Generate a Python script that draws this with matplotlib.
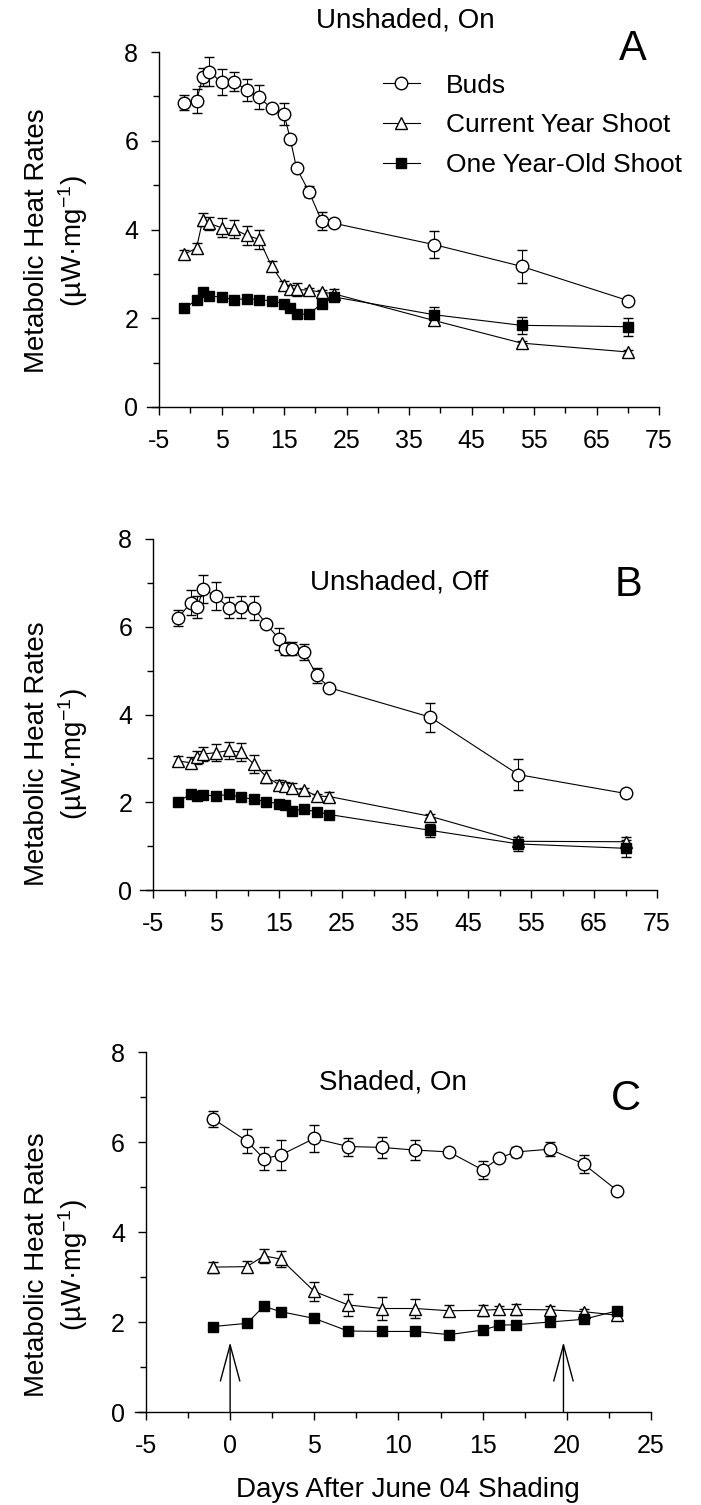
import numpy as np
import matplotlib
matplotlib.use("Agg")
import matplotlib.pyplot as plt
from matplotlib.ticker import MultipleLocator
from matplotlib.lines import Line2D

plt.rcParams['font.family'] = ['Liberation Sans', 'DejaVu Sans']
plt.rcParams['mathtext.fontset'] = 'custom'
plt.rcParams['mathtext.rm'] = 'Liberation Sans'
plt.rcParams['mathtext.default'] = 'regular'
plt.rcParams['axes.unicode_minus'] = False

# sampling days
days_long = [-1, 1, 2, 3, 5, 7, 9, 11, 13, 15, 16, 17, 19, 21, 23, 39, 53, 70]
days_short = [-1, 1, 2, 3, 5, 7, 9, 11, 13, 15, 16, 17, 19, 21, 23]

series_names = ["Buds", "Current Year Shoot", "One Year-Old Shoot"]

# panel A - unshaded, on
a_buds = [6.86, 6.90, 7.43, 7.56, 7.32, 7.33, 7.15, 6.98, 6.73, 6.61, 6.04, 5.39, 4.85, 4.20, 4.14, 3.66, 3.17, 2.40]
a_buds_err = [0.17, 0.27, 0.20, 0.33, 0.30, 0.22, 0.25, 0.27, 0.03, 0.25, 0.10, 0.05, 0.12, 0.20, 0.03, 0.30, 0.37, 0.05]
a_cur = [3.44, 3.58, 4.22, 4.14, 4.04, 4.01, 3.87, 3.78, 3.18, 2.76, 2.65, 2.65, 2.63, 2.59, 2.55, 1.95, 1.44, 1.24]
a_cur_err = [0.10, 0.12, 0.15, 0.15, 0.22, 0.20, 0.22, 0.22, 0.10, 0.08, 0.10, 0.15, 0.05, 0.05, 0.10, 0.05, 0.05, 0.05]
a_old = [2.22, 2.41, 2.60, 2.51, 2.47, 2.42, 2.44, 2.42, 2.39, 2.33, 2.23, 2.09, 2.09, 2.33, 2.48, 2.08, 1.84, 1.81]
a_old_err = [0.04, 0.04, 0.04, 0.04, 0.04, 0.04, 0.04, 0.04, 0.04, 0.04, 0.04, 0.04, 0.04, 0.04, 0.10, 0.18, 0.19, 0.20]

# panel B - unshaded, off
b_buds = [6.20, 6.55, 6.45, 6.85, 6.70, 6.43, 6.45, 6.43, 6.06, 5.72, 5.50, 5.50, 5.42, 4.89, 4.61, 3.94, 2.63, 2.20]
b_buds_err = [0.19, 0.28, 0.25, 0.32, 0.32, 0.24, 0.25, 0.27, 0.03, 0.25, 0.15, 0.15, 0.18, 0.18, 0.03, 0.33, 0.35, 0.05]
b_cur = [2.94, 2.90, 3.02, 3.10, 3.13, 3.18, 3.14, 2.87, 2.58, 2.40, 2.36, 2.33, 2.28, 2.14, 2.13, 1.68, 1.11, 1.10]
b_cur_err = [0.12, 0.12, 0.15, 0.15, 0.20, 0.20, 0.20, 0.20, 0.15, 0.10, 0.10, 0.10, 0.05, 0.05, 0.10, 0.05, 0.10, 0.10]
b_old = [2.01, 2.19, 2.15, 2.17, 2.14, 2.18, 2.11, 2.07, 2.01, 1.97, 1.93, 1.81, 1.84, 1.78, 1.72, 1.36, 1.05, 0.95]
b_old_err = [0.04, 0.04, 0.04, 0.04, 0.04, 0.04, 0.04, 0.04, 0.04, 0.04, 0.04, 0.04, 0.04, 0.04, 0.04, 0.15, 0.15, 0.20]

# panel C - shaded, on
c_buds = [6.51, 6.02, 5.63, 5.71, 6.08, 5.90, 5.88, 5.82, 5.78, 5.38, 5.65, 5.78, 5.84, 5.51, 4.92]
c_buds_err = [0.17, 0.27, 0.26, 0.34, 0.30, 0.20, 0.23, 0.23, 0.03, 0.20, 0.05, 0.12, 0.15, 0.20, 0.03]
c_cur = [3.22, 3.23, 3.47, 3.40, 2.68, 2.38, 2.30, 2.30, 2.25, 2.26, 2.28, 2.28, 2.27, 2.23, 2.15]
c_cur_err = [0.12, 0.12, 0.15, 0.18, 0.22, 0.25, 0.25, 0.22, 0.12, 0.12, 0.08, 0.12, 0.08, 0.06, 0.08]
c_old = [1.90, 1.97, 2.35, 2.23, 2.08, 1.80, 1.79, 1.79, 1.72, 1.82, 1.93, 1.94, 2.00, 2.06, 2.25]
c_old_err = [0.04] * 15

shading_arrows = [0, 19.8]

W, H = 701, 1505
fig = plt.figure(figsize=(W / 100, H / 100), dpi=100)

marker_styles = [
    dict(marker='o', ms=9, mfc='white', mec='black', mew=1.0),
    dict(marker='^', ms=8.5, mfc='white', mec='black', mew=1.0),
    dict(marker='s', ms=7.5, mfc='black', mec='black', mew=1.0),
]


def px_axes(left, right, top, bottom):
    return fig.add_axes([left / W, 1 - bottom / H, (right - left) / W, (bottom - top) / H])


def style_axes(ax, x0, xmax, major, minor):
    ax.set_xlim(x0, xmax)
    ax.set_ylim(0, 8)
    for s in ['top', 'right']:
        ax.spines[s].set_visible(False)
    ax.spines['left'].set_position(('data', -5))
    ax.spines['left'].set_bounds(0, 8)
    ax.spines['bottom'].set_bounds(x0, xmax)
    for s in ['left', 'bottom']:
        ax.spines[s].set_linewidth(1.0)
    ax.set_xticks(np.arange(-5, xmax + 0.1, major))
    ax.xaxis.set_minor_locator(MultipleLocator(minor))
    ax.set_yticks([0, 2, 4, 6, 8])
    ax.yaxis.set_minor_locator(MultipleLocator(1))
    ax.tick_params(which='major', direction='out', length=6, width=1, labelsize=18, pad=9)
    ax.tick_params(which='minor', direction='out', length=4, width=1)
    ax.tick_params(axis='x', which='major', pad=10)


def draw_series(ax, x, buds, buds_e, cur, cur_e, old, old_e):
    common = dict(color='black', lw=0.8, elinewidth=0.8, capsize=3.5, capthick=0.8, clip_on=False)
    for y, e, st in zip([buds, cur, old], [buds_e, cur_e, old_e], marker_styles):
        ax.errorbar(x, y, yerr=e, **st, **common)


ylab = "Metabolic Heat Rates\n" + r"(µW·mg$^{-1}$)"

# ---- panel A
axA = px_axes(146.5, 659, 52, 407)
draw_series(axA, days_long, a_buds, a_buds_err, a_cur, a_cur_err, a_old, a_old_err)
style_axes(axA, -7, 75, 10, 5)
axA.text(34.4, 8.56, "Unshaded, On", ha='center', va='baseline', fontsize=20)
axA.text(70.8, 7.82, "A", ha='center', va='baseline', fontsize=30)
handles = [Line2D([], [], color='black', lw=0.8, **st) for st in marker_styles]
axA.legend(handles, series_names, loc='upper left', bbox_to_anchor=(0.4615, 0.939), frameon=False,
           borderaxespad=0, borderpad=0, handlelength=1.4, handletextpad=1.0,
           labelspacing=0.59, fontsize=19, numpoints=1)
fig.text(57 / W, 1 - 241 / H, ylab, rotation=90, ha='center', va='center', fontsize=20,
         linespacing=1.25, multialignment='center')

# ---- panel B
axB = px_axes(140.4, 657, 539, 890)
draw_series(axB, days_long, b_buds, b_buds_err, b_cur, b_cur_err, b_old, b_old_err)
style_axes(axB, -7, 75, 10, 5)
axB.text(34.1, 6.86, "Unshaded, Off", ha='center', va='baseline', fontsize=20)
axB.text(70.4, 6.70, "B", ha='center', va='baseline', fontsize=30)
fig.text(57 / W, 1 - 754 / H, ylab, rotation=90, ha='center', va='center', fontsize=20,
         linespacing=1.25, multialignment='center')

# ---- panel C
axC = px_axes(135, 651, 1052, 1412)
draw_series(axC, days_short, c_buds, c_buds_err, c_cur, c_cur_err, c_old, c_old_err)
style_axes(axC, -5.65, 25, 5, 2.5)
axC.text(9.66, 7.16, "Shaded, On", ha='center', va='baseline', fontsize=20)
axC.text(23.5, 6.71, "C", ha='center', va='baseline', fontsize=30)
for xa in shading_arrows:
    axC.annotate("", xy=(xa, 1.55), xytext=(xa, 0),
                 arrowprops=dict(arrowstyle='->,head_length=2.6,head_width=0.7', lw=1.0,
                                 color='black', mutation_scale=10, shrinkA=0, shrinkB=0))
fig.text(57 / W, 1 - 1265 / H, ylab, rotation=90, ha='center', va='center', fontsize=20,
         linespacing=1.25, multialignment='center')
fig.text(408 / W, 1 - 1497 / H, "Days After June 04 Shading", ha='center', va='baseline', fontsize=20)

fig.savefig("out.png", dpi=100)
